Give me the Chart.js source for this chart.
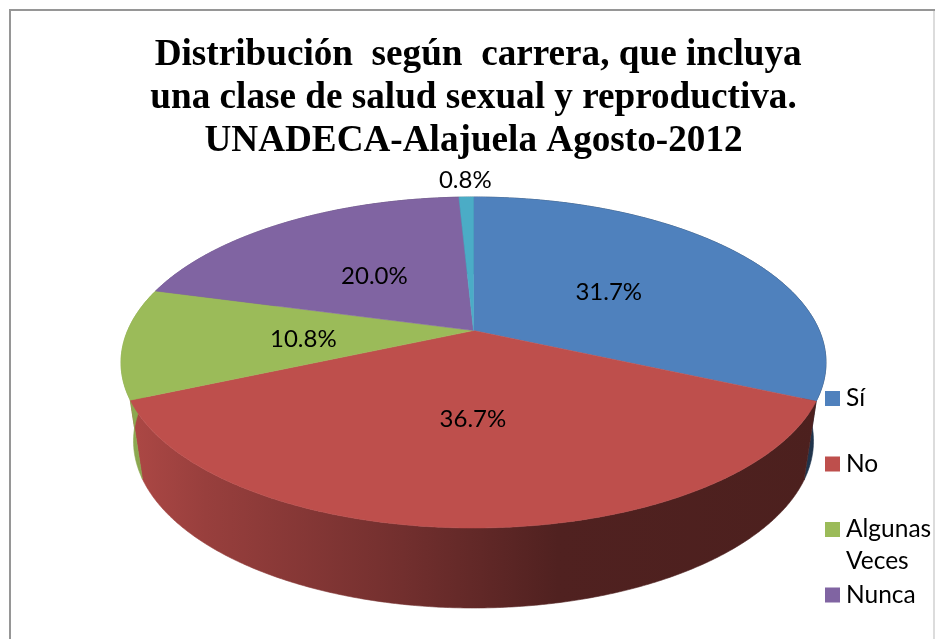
<!DOCTYPE html>
<html><head><meta charset="utf-8">
<style>html,body{margin:0;padding:0;background:#fff}canvas{display:block}</style>
<script src="https://cdn.jsdelivr.net/npm/chart.js@4"></script></head>
<body><canvas id="c" width="935" height="639"></canvas>
<script>
const titleLines = [" Distribución  según  carrera, que incluya","una clase de salud sexual y reproductiva.","UNADECA-Alajuela Agosto-2012"];
const categories = ["Sí","No","Algunas Veces","Nunca",""];
const legendLines = [["Sí"],["No"],["Algunas","Veces"],["Nunca"]];
const values = [31.7,36.7,10.8,20.0,0.8];
const colors = ["#4F81BD","#BE4F4C","#9BBB59","#8064A2","#4BACC6"];

function rgb(h){return [1,3,5].map(i=>parseInt(h.substr(i,2),16));}
function shade(h,f){return 'rgb('+rgb(h).map(c=>Math.round(c*f)).join(',')+')';}
const tilt=-0.193, topRy=165.5, botRx=340, botRy=167, botCy=441;
// light falloff of the side wall from left to right
const wallStops=[[0,.92],[.12,.80],[.4,.6],[.62,.42],[1,.4]];

const pie3d={
  id:'pie3d',
  beforeDraw(ch){
    const c=ch.ctx;c.save();c.fillStyle='#fff';c.fillRect(0,0,935,639);
    c.strokeStyle='#dcdcdc';c.lineWidth=2;c.beginPath();c.moveTo(934,10);c.lineTo(934,639);c.stroke();
    c.strokeStyle='#969696';c.lineWidth=2;c.beginPath();c.moveTo(10,639);c.lineTo(10,10);c.lineTo(935,10);c.stroke();c.restore();
  },
  beforeDatasetsDraw(ch){
    const c=ch.ctx,a=ch.chartArea,meta=ch.getDatasetMeta(0);
    const cx=(a.left+a.right)/2,rx=(a.right-a.left)/2,cy=a.top+topRy;
    const proj=(th,r,R,Ry,Cy)=>{ // th: library angle (-PI/2 = top)
      const u=r*Math.cos(th),v=r*Math.sin(th),w=1+tilt*v;
      return [cx+R*u*Math.sqrt(1-tilt*tilt)/w, Cy+Ry*(v+tilt)/w];
    };
    const top=(th,r=1)=>proj(th,r,rx,topRy,cy);
    const bot=th=>proj(th,1,botRx,botRy,botCy);
    const apex=top(0,0);
    c.save();
    // side walls
    meta.data.forEach((arc,i)=>{
      const g=c.createLinearGradient(a.left,0,a.right,0);
      wallStops.forEach(s=>g.addColorStop(s[0],shade(colors[i],s[1])));
      c.fillStyle=g;c.strokeStyle=g;c.lineWidth=.6;
      c.beginPath();
      const n=Math.max(2,Math.ceil((arc.endAngle-arc.startAngle)*120));
      for(let k=0;k<=n;k++){const p=top(arc.startAngle+(arc.endAngle-arc.startAngle)*k/n);c.lineTo(p[0],p[1]);}
      for(let k=n;k>=0;k--){const p=bot(arc.startAngle+(arc.endAngle-arc.startAngle)*k/n);c.lineTo(p[0],p[1]);}
      c.closePath();c.fill();c.stroke();
    });
    // top faces
    meta.data.forEach((arc,i)=>{
      c.fillStyle=colors[i];c.strokeStyle=colors[i];c.lineWidth=.5;
      c.beginPath();c.moveTo(apex[0],apex[1]);
      const n=Math.max(4,Math.ceil((arc.endAngle-arc.startAngle)*120));
      for(let k=0;k<=n;k++){const p=top(arc.startAngle+(arc.endAngle-arc.startAngle)*k/n);c.lineTo(p[0],p[1]);}
      c.closePath();c.fill();c.stroke();
    });
    // value labels
    c.fillStyle='#000';c.font='24px Lato';c.textAlign='center';c.textBaseline='middle';
    meta.data.forEach((arc,i)=>{
      const mid=(arc.startAngle+arc.endAngle)/2,out=values[i]<2;
      const p=top(mid,out?1.15:.49);
      c.fillText(values[i].toFixed(1)+'%',p[0],p[1]+(out?0:2.5));
    });
    // legend
    c.textAlign='left';c.font='24.5px Lato';
    legendLines.forEach((ls,i)=>{
      const y=398.5+i*65.5;
      c.fillStyle=colors[i];c.fillRect(825,y-7.5,15,15);
      c.fillStyle='#000';
      ls.forEach((t,j)=>c.fillText(t,846,y+j*32));
    });
    c.restore();
    return false;
  }
};

new Chart(document.getElementById('c'),{
  type:'pie',
  data:{labels:categories,datasets:[{data:values,backgroundColor:colors,borderWidth:0}]},
  options:{responsive:false,animation:false,
    layout:{padding:{left:121,right:109,top:0,bottom:31}},
    plugins:{legend:{display:false},tooltip:{enabled:false},
      title:{display:true,text:titleLines,color:'#000',
        font:{family:'"Liberation Serif"',size:37.2,weight:'bold',lineHeight:1.156},
        padding:{top:33.5,bottom:34.5}}}},
  plugins:[pie3d]
});
</script></body></html>
